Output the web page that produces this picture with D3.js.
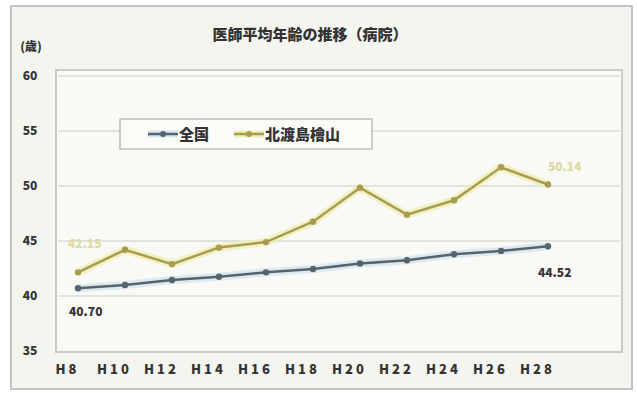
<!DOCTYPE html>
<html>
<head>
<meta charset="utf-8">
<script src="https://cdn.jsdelivr.net/npm/d3@7"></script>
<style>
  body { margin: 0; background: #fff; }
  svg text { font-family: "Noto Sans CJK JP", "Noto Sans", sans-serif; font-weight: 900; }
</style>
</head>
<body>
<svg id="chart" width="637" height="393"></svg>
<script>
const years = ["H8", "H10", "H12", "H14", "H16", "H18", "H20", "H22", "H24", "H26", "H28"];
const national = [40.70, 41.0, 41.45, 41.75, 42.15, 42.45, 42.95, 43.25, 43.8, 44.1, 44.52];
const region = [42.15, 44.2, 42.9, 44.4, 44.9, 46.75, 49.85, 47.4, 48.7, 51.7, 50.14];
const yTicks = [35, 40, 45, 50, 55, 60];
const titleText = "医師平均年齢の推移（病院）";
const seriesNames = ["全国", "北渡島檜山"];

const width = 637, height = 393;
const svg = d3.select("#chart");

// outer frame
svg.append("rect").attr("x", 11).attr("y", 6).attr("width", 621).attr("height", 383)
  .attr("fill", "#f5f5f0").attr("stroke", "#c4c4bf").attr("stroke-width", 2);

const x = d3.scalePoint().domain(years).range([78, 548]);
const y = d3.scaleLinear().domain([35, 60]).range([351, 76]);

// plot area
svg.append("rect").attr("x", 56).attr("y", 70).attr("width", 566).attr("height", 282)
  .attr("fill", "#f9f9f5").attr("stroke", "#cbcbc6").attr("stroke-width", 2);

svg.append("g").selectAll("line")
  .data(yTicks.filter(d => d > 35))
  .join("line")
  .attr("x1", 58).attr("x2", 620)
  .attr("y1", d => y(d)).attr("y2", d => y(d))
  .attr("stroke", "#e2e2dc").attr("stroke-width", 2);

// y axis labels
const yAxis = svg.append("g").attr("transform", "translate(40,0)")
  .call(d3.axisLeft(y).tickValues(yTicks).tickSize(0).tickPadding(0));
yAxis.select(".domain").remove();
yAxis.selectAll("text").attr("font-size", 12).attr("fill", "#333")
  .attr("font-family", "'Noto Sans CJK JP', sans-serif").attr("font-weight", 900)
  .attr("text-anchor", "middle").attr("dx", -10);

svg.append("text").attr("x", 31).attr("y", 51).attr("text-anchor", "middle")
  .attr("font-size", 12).attr("fill", "#333").text("(歳)");

// x axis labels (slightly left of the points, as in the original)
const xAxis = svg.append("g").attr("transform", "translate(-11,364)")
  .call(d3.axisBottom(x).tickSize(0).tickPadding(0));
xAxis.select(".domain").remove();
xAxis.selectAll("text").attr("font-size", 13).attr("fill", "#333")
  .attr("font-family", "'Noto Sans CJK JP', sans-serif").attr("font-weight", 900)
  .attr("letter-spacing", "3px").attr("dy", "0.8em");

// title
svg.append("text").attr("x", 310).attr("y", 40).attr("text-anchor", "middle")
  .attr("font-size", 15).attr("fill", "#333").text(titleText);

const line = d3.line().x((d, i) => x(years[i])).y(d => y(d));

// glow + lines
const series = [
  { values: national, color: "#56656d", glow: "#d5e6ee" },
  { values: region, color: "#a89c52", glow: "#f0efb8" }
];
series.forEach(s => {
  svg.append("path").datum(s.values).attr("d", line)
    .attr("fill", "none").attr("stroke", s.glow).attr("stroke-width", 8).attr("opacity", 0.8);
  svg.append("path").datum(s.values).attr("d", line)
    .attr("fill", "none").attr("stroke", s.color).attr("stroke-width", 2.5);
  svg.append("g").selectAll("circle").data(s.values).join("circle")
    .attr("cx", (d, i) => x(years[i])).attr("cy", d => y(d)).attr("r", 3.2)
    .attr("fill", s.color);
});

// data labels
svg.append("text").attr("x", 69).attr("y", 316).attr("font-size", 12).attr("fill", "#333")
  .text(national[0].toFixed(2));
svg.append("text").attr("x", 538).attr("y", 277).attr("font-size", 12).attr("fill", "#333")
  .text(national[national.length - 1].toFixed(2));
svg.append("text").attr("x", 68).attr("y", 248).attr("font-size", 12).attr("fill", "#dcdaa0")
  .text(region[0].toFixed(2));
svg.append("text").attr("x", 548).attr("y", 171).attr("font-size", 12).attr("fill", "#dcdaa0")
  .text(region[region.length - 1].toFixed(2));

// legend
const lg = svg.append("g");
lg.append("rect").attr("x", 120).attr("y", 119).attr("width", 252).attr("height", 30)
  .attr("fill", "#fbfbf8").attr("stroke", "#bdbdb8").attr("stroke-width", 1.5);
const legendItems = [
  { name: seriesNames[0], color: series[0].color, glow: series[0].glow, x0: 148 },
  { name: seriesNames[1], color: series[1].color, glow: series[1].glow, x0: 234 }
];
legendItems.forEach(it => {
  lg.append("line").attr("x1", it.x0).attr("x2", it.x0 + 30).attr("y1", 134).attr("y2", 134)
    .attr("stroke", it.glow).attr("stroke-width", 7);
  lg.append("line").attr("x1", it.x0).attr("x2", it.x0 + 30).attr("y1", 134).attr("y2", 134)
    .attr("stroke", it.color).attr("stroke-width", 2.5);
  lg.append("circle").attr("cx", it.x0 + 15).attr("cy", 134).attr("r", 3).attr("fill", it.color);
  lg.append("text").attr("x", it.x0 + 31).attr("y", 140).attr("font-size", 15)
    .attr("fill", "#333").text(it.name);
});
</script>
</body>
</html>
